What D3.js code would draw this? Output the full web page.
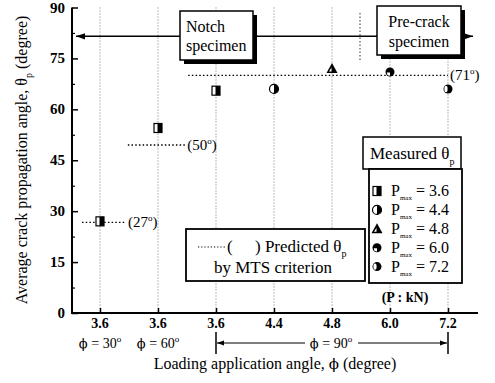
<!DOCTYPE html>
<html><head><meta charset="utf-8">
<script src="https://cdn.jsdelivr.net/npm/d3@7"></script>
<style>
body{margin:0;background:#fff;}
svg text{font-family:"Liberation Serif","Times New Roman",serif;fill:#000;}
svg tspan.phi{font-family:"DejaVu Serif",serif;fill:#000;}
</style></head>
<body><svg id="c" width="495" height="383"></svg>
<script>
const categories = ["3.6","3.6","3.6","4.4","4.8","6.0","7.2"];
const measured = [27, 54.5, 65.5, 66, 72, 71, 66];
const markerTypes = ["sq","sq","sq","c44","tri","c60","c72"];
const yTicks = [0,15,30,45,60,75,90];
const yMinorTicks = [7.5,22.5,37.5,52.5,67.5,82.5];
const predictedValues = [26.7, 49.5, 70];
const predictedLabels = ["27","50","71"];
const predictedSpan = [[-0.31,0.45],[0.48,1.47],[1.52,6]];
const loadLegend = ["3.6","4.4","4.8","6.0","7.2"];
const legendTypes = ["sq","c44","tri","c60","c72"];
const specimenArrowY = 81.5;
const PHI = "\u03D5";

const svg = d3.select("#c");
const x = d3.scaleLinear().domain([0,6]).range([100,448]);
const y = d3.scaleLinear().domain([0,90]).range([313,7.5]);
const axisL = 72, axisR = 478;

// vertical dotted grid lines
svg.append("g").selectAll("line").data(categories).join("line")
  .attr("x1",(d,i)=>x(i)).attr("x2",(d,i)=>x(i))
  .attr("y1",y(90)).attr("y2",y(0))
  .attr("stroke","#777").attr("stroke-width",1).attr("stroke-dasharray","1,2");

// separator dotted
svg.append("line").attr("x1",360).attr("x2",360).attr("y1",13).attr("y2",62)
  .attr("stroke","#333").attr("stroke-width",1).attr("stroke-dasharray","1.5,2");

// predicted dotted lines
predictedValues.forEach((v,k)=>{
  const [a,b] = predictedSpan[k];
  svg.append("line").attr("x1",x(a)).attr("x2",x(b)).attr("y1",y(v)).attr("y2",y(v))
    .attr("stroke","#000").attr("stroke-width",1.3).attr("stroke-dasharray","1.5,2.2");
  const t = svg.append("text").attr("x",x(b)+2).attr("y",y(v)+5).attr("font-size",15);
  t.append("tspan").text("("+predictedLabels[k]);
  t.append("tspan").attr("font-size",9).attr("dy",-6).text("o");
  t.append("tspan").attr("dy",6).text(")");
});

// axes
const yAxis = d3.axisRight(y).tickValues(yTicks).tickSize(6).tickFormat("");
const gy = svg.append("g").attr("transform",`translate(${axisL},0)`).call(yAxis);
gy.select(".domain").remove();
gy.selectAll("line").attr("stroke","#000").attr("stroke-width",1.5);
const gym = svg.append("g").attr("transform",`translate(${axisL},0)`)
  .call(d3.axisRight(y).tickValues(yMinorTicks).tickSize(3).tickFormat(""));
gym.select(".domain").remove();
gym.selectAll("line").attr("stroke","#000").attr("stroke-width",1.2);
svg.append("line").attr("x1",axisL).attr("x2",axisL).attr("y1",y(90)).attr("y2",y(0)+1)
  .attr("stroke","#000").attr("stroke-width",2);
svg.append("g").selectAll("text").data(yTicks).join("text")
  .attr("x",65).attr("y",d=>y(d)+5).attr("text-anchor","end")
  .attr("font-size",15).attr("font-weight","bold").text(d=>d);

svg.append("line").attr("x1",axisL-1).attr("x2",axisR).attr("y1",y(0)).attr("y2",y(0))
  .attr("stroke","#000").attr("stroke-width",2);
const xAxis = d3.axisTop(x).tickValues(d3.range(categories.length)).tickSize(5).tickFormat("");
const gx = svg.append("g").attr("transform",`translate(0,${y(0)})`).call(xAxis);
gx.select(".domain").remove();
gx.selectAll("line").attr("stroke","#000").attr("stroke-width",1.5);
svg.append("g").selectAll("text").data(categories).join("text")
  .attr("x",(d,i)=>x(i)).attr("y",328).attr("text-anchor","middle")
  .attr("font-size",14).attr("font-weight","bold").text(d=>d);

// phi labels
function phiText(cx, cy, val){
  const t = svg.append("text").attr("x",cx).attr("y",cy).attr("text-anchor","middle").attr("font-size",14);
  t.append("tspan").attr("class","phi").attr("font-size",13).text(PHI);
  t.append("tspan").text(" = "+val);
  t.append("tspan").attr("font-size",9).attr("dy",-6).text("o");
  return t;
}
phiText(x(0), 348, "30");
phiText(x(1), 348, "60");
// bracket
[2,6].forEach(i=>svg.append("line").attr("x1",x(i)).attr("x2",x(i)).attr("y1",332).attr("y2",354)
  .attr("stroke","#000").attr("stroke-width",1.5));
svg.append("defs").html(`
<marker id="ah" viewBox="0 0 10 10" refX="10" refY="5" markerWidth="7" markerHeight="7" orient="auto-start-reverse" markerUnits="userSpaceOnUse">
<path d="M0,1.5 L10,5 L0,8.5 z" fill="#000"/></marker>
<marker id="ah2" viewBox="0 0 10 10" refX="10" refY="5" markerWidth="9" markerHeight="9" orient="auto-start-reverse" markerUnits="userSpaceOnUse">
<path d="M0,1.5 L10,5 L0,8.5 z" fill="#000"/></marker>`);
svg.append("line").attr("x1",x(2)+1).attr("x2",305).attr("y1",343).attr("y2",343)
  .attr("stroke","#000").attr("stroke-width",1).attr("marker-start","url(#ah)");
svg.append("line").attr("x1",358).attr("x2",x(6)-1).attr("y1",343).attr("y2",343)
  .attr("stroke","#000").attr("stroke-width",1).attr("marker-end","url(#ah)");
phiText(331, 348, "90");

// axis titles
const xt = svg.append("text").attr("x",275).attr("y",369).attr("text-anchor","middle").attr("font-size",16);
xt.append("tspan").text("Loading application angle, ");
xt.append("tspan").attr("class","phi").attr("font-size",15).text(PHI);
xt.append("tspan").text(" (degree)");
const yt = svg.append("text").attr("transform","translate(27,160) rotate(-90)")
  .attr("text-anchor","middle").attr("font-size",16);
yt.append("tspan").text("Average crack propagation angle, \u03B8");
yt.append("tspan").attr("font-size",10).attr("dy",5).text("p");
yt.append("tspan").attr("dy",-5).text(" (degree)");

// specimen arrow
svg.append("line").attr("x1",axisL+4).attr("x2",473).attr("y1",y(specimenArrowY)).attr("y2",y(specimenArrowY))
  .attr("stroke","#000").attr("stroke-width",1.5)
  .attr("marker-start","url(#ah2)").attr("marker-end","url(#ah2)");

function shadowBox(bx,by,bw,bh,off){
  svg.append("rect").attr("x",bx+off).attr("y",by+off).attr("width",bw).attr("height",bh).attr("fill","#000");
  svg.append("rect").attr("x",bx).attr("y",by).attr("width",bw).attr("height",bh)
    .attr("fill","#fff").attr("stroke","#000").attr("stroke-width",1.5);
}
shadowBox(180,11,73,49,4);
svg.append("text").attr("x",186).attr("y",32).attr("font-size",16).text("Notch");
svg.append("text").attr("x",186).attr("y",51).attr("font-size",16).text("specimen");
shadowBox(377,6,84,49,4);
svg.append("text").attr("x",419).attr("y",27).attr("text-anchor","middle").attr("font-size",16).text("Pre-crack");
svg.append("text").attr("x",419).attr("y",47).attr("text-anchor","middle").attr("font-size",16).text("specimen");

// marker drawing
function drawMarker(g, type, cx, cy){
  const r = 4.5;
  if(type==="sq"){
    g.append("rect").attr("x",cx-4).attr("y",cy-4.5).attr("width",8).attr("height",9)
      .attr("fill","#fff").attr("stroke","#000").attr("stroke-width",1.2);
    g.append("rect").attr("x",cx-0.5).attr("y",cy-4.5).attr("width",4.5).attr("height",9).attr("fill","#000");
  } else if(type==="c44"){
    g.append("circle").attr("cx",cx).attr("cy",cy).attr("r",r).attr("fill","#fff").attr("stroke","#000").attr("stroke-width",1.2);
    g.append("path").attr("d",`M${cx},${cy-r}A${r},${r} 0 0 1 ${cx},${cy+r}Z`).attr("fill","#000");
  } else if(type==="tri"){
    g.append("path").attr("d",`M${cx},${cy-5.5}L${cx+5.5},${cy+4.5}L${cx-5.5},${cy+4.5}Z`).attr("fill","#000");
    g.append("path").attr("d",`M${cx-0.5},${cy-1}L${cx-0.5},${cy+3}L${cx-3},${cy+3}Z`).attr("fill","#fff");
  } else if(type==="c60"){
    g.append("circle").attr("cx",cx).attr("cy",cy).attr("r",r).attr("fill","#000");
    g.append("path").attr("d",`M${cx},${cy+0.5}L${cx-r+1.3},${cy+0.5}A${r-1.3},${r-1.3} 0 0 0 ${cx},${cy+r-0.8}Z`).attr("fill","#fff");
  } else {
    g.append("circle").attr("cx",cx).attr("cy",cy).attr("r",r).attr("fill","#000");
    g.append("ellipse").attr("cx",cx-2).attr("cy",cy).attr("rx",1.6).attr("ry",3.2).attr("fill","#fff");
  }
}
const mg = svg.append("g");
measured.forEach((v,i)=>drawMarker(mg, markerTypes[i], x(i), y(v)));

// predicted legend box
svg.append("rect").attr("x",186).attr("y",229).attr("width",179).attr("height",52)
  .attr("fill","#fff").attr("stroke","#000").attr("stroke-width",1.8);
svg.append("line").attr("x1",198).attr("x2",226).attr("y1",247).attr("y2",247)
  .attr("stroke","#000").attr("stroke-width",1.2).attr("stroke-dasharray","1.2,2");
const pt = svg.append("text").attr("x",227).attr("y",252).attr("font-size",17);
pt.append("tspan").text("(");
pt.append("tspan").attr("x",255).text(") Predicted \u03B8");
pt.append("tspan").attr("font-size",10).attr("dy",5).text("p");
svg.append("text").attr("x",273).attr("y",273).attr("text-anchor","middle").attr("font-size",17).text("by MTS criterion");

// measured legend
svg.append("rect").attr("x",363).attr("y",137).attr("width",98).attr("height",32)
  .attr("fill","#fff").attr("stroke","#000").attr("stroke-width",1.5);
const mt = svg.append("text").attr("x",370).attr("y",159).attr("font-size",17);
mt.append("tspan").text("Measured \u03B8");
mt.append("tspan").attr("font-size",10).attr("dy",6).text("p");
svg.append("rect").attr("x",369).attr("y",169).attr("width",93).attr("height",114)
  .attr("fill","#fff").attr("stroke","#000").attr("stroke-width",1.8);
const lg = svg.append("g");
loadLegend.forEach((v,k)=>{
  const cy = 191 + k*18.9;
  drawMarker(lg, legendTypes[k], 377, cy);
  const t = lg.append("text").attr("x",391).attr("y",cy+5).attr("font-size",16);
  t.append("tspan").text("P");
  t.append("tspan").attr("font-size",7).attr("dy",4).text("max");
  t.append("tspan").attr("dy",-4).text(" = "+v);
});
svg.append("text").attr("x",405).attr("y",302).attr("text-anchor","middle").attr("font-size",14)
  .attr("font-weight","bold").text("(P : kN)");
</script></body></html>
